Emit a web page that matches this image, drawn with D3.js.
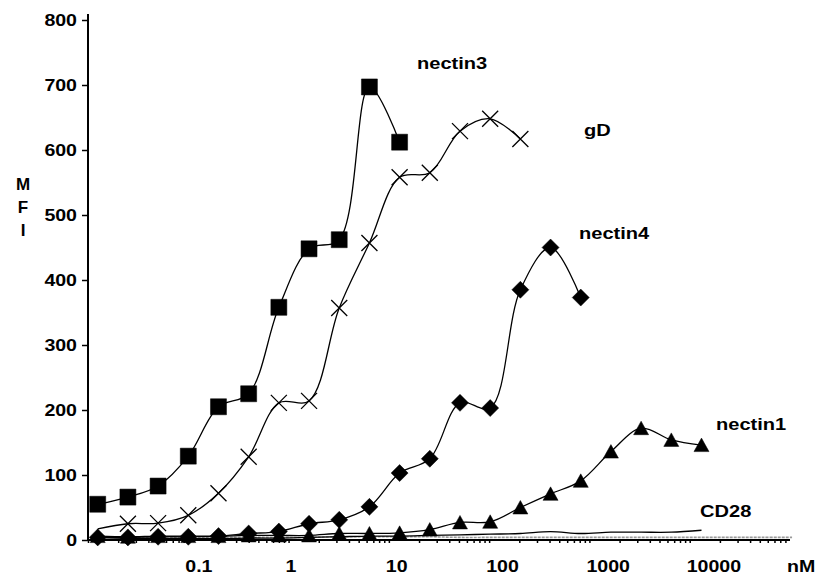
<!DOCTYPE html>
<html>
<head>
<meta charset="utf-8">
<script src="https://cdn.jsdelivr.net/npm/d3@7"></script>
<style>
body { margin: 0; background: #fff; }
text { font-family: "Liberation Sans", Arial, sans-serif; font-weight: bold; fill: #000; }
</style>
</head>
<body>
<script>
// concentrations (nM), 2-fold dilution series
var conc = [0.0125, 0.025, 0.05, 0.1, 0.2, 0.4, 0.8, 1.6, 3.2, 6.4, 12.8, 25.6, 51.2,
            102.4, 204.8, 409.6, 819.2, 1638.4, 3276.8, 6553.6, 13107.2, 26214.4, 52428.8, 104857.6];

// MFI values
var nectin3 = [55, 66, 83, 129, 205, 225, 358, 448, 462, 697, 612];
var gD      = [17, 25, 26, 38, 72, 128, 211, 214, 357, 457, 558, 565, 629, 648, 617];
var nectin4 = [4, 4, 5, 5, 6, 10, 13, 25, 31, 51, 103, 125, 211, 203, 385, 450, 373];
var nectin1 = [6, 5, 6, 6, 6, 7, 7, 7, 10, 10, 11, 16, 27, 28, 50, 71, 91, 136, 172, 154, 146];
var cd28    = [1, 2, 2, 2, 2, 3, 3, 4, 5, 6, 6, 7, 8, 9, 10, 13, 10, 12, 12, 12, 15];
var ctrl    = [4, 4, 4, 4, 4, 4, 4, 4, 5, 5, 5, 5, 4, 4, 4, 4, 4, 4, 4, 4, 4, 4, 4, 4];

var yTicks = [0, 100, 200, 300, 400, 500, 600, 700, 800];
var xLabels = [0.1, 1, 10, 100, 1000, 10000];

var svg = d3.select("body").append("svg")
    .attr("width", 818)
    .attr("height", 576);

var x = d3.scaleLog().domain([0.01, 100000]).range([88, 790]);
var y = d3.scaleLinear().domain([0, 800]).range([540, 20]);

// the scanned figure has wide lettering, stretch text a bit
function widen(sel, k) {
    sel.each(function() {
        var w = this.getComputedTextLength();
        d3.select(this).attr("textLength", w * k).attr("lengthAdjust", "spacingAndGlyphs");
    });
}

// y axis
var yAxis = svg.append("g")
    .attr("transform", "translate(88,0)")
    .call(d3.axisLeft(y).tickValues(yTicks).tickSize(6).tickPadding(5).tickSizeOuter(0));
yAxis.select(".domain").remove();
yAxis.selectAll("line").attr("stroke", "#000").attr("stroke-width", 1.5);
yAxis.selectAll("text").style("font-size", "17px").attr("font-family", null);
widen(yAxis.selectAll("text"), 1.15);
svg.append("line")
    .attr("x1", 88).attr("x2", 88)
    .attr("y1", 14).attr("y2", 540)
    .attr("stroke", "#000").attr("stroke-width", 2);

// x axis: log ticks hanging under the line
var minor = [];
for (var e = -2; e < 5; e++) {
    for (var m = 1; m < 10; m++) minor.push(m * Math.pow(10, e));
}
var xAxis = svg.append("g")
    .attr("transform", "translate(0,540)")
    .call(d3.axisBottom(x).tickValues(minor).tickSize(3).tickFormat(""));
xAxis.select(".domain").remove();
xAxis.selectAll("line").attr("stroke", "#000").attr("stroke-width", 1.5);
svg.append("line")
    .attr("x1", 88).attr("x2", 790)
    .attr("y1", 540).attr("y2", 540)
    .attr("stroke", "#000").attr("stroke-width", 2);

var xl = svg.selectAll(".xlab")
    .data(xLabels)
    .enter()
    .append("text")
    .attr("class", "xlab")
    .attr("x", function(d) { return x(d) - 3; })
    .attr("y", 572)
    .style("font-size", "17px")
    .text(function(d) { return d; });
widen(xl, 1.15);

widen(svg.append("text").attr("x", 787).attr("y", 572).style("font-size", "17px").text("nM"), 1.15);

// MFI, stacked letters
svg.selectAll(".ylab")
    .data(["M", "F", "I"])
    .enter()
    .append("text")
    .attr("x", 23)
    .attr("y", function(d, i) { return 190 + i * 23; })
    .attr("text-anchor", "middle")
    .style("font-size", "17px")
    .text(function(d) { return d; });

var line = d3.line()
    .x(function(d, i) { return x(conc[i]); })
    .y(function(d) { return y(d); })
    .curve(d3.curveCatmullRom.alpha(0.5));

// control near zero (grey dashed) and CD28 (plain line)
svg.append("path").attr("d", line(ctrl))
    .attr("fill", "none").attr("stroke", "#9a9a9a").attr("stroke-width", 1.6)
    .attr("stroke-dasharray", "3,1");
svg.append("path").attr("d", line(cd28))
    .attr("fill", "none").attr("stroke", "#000").attr("stroke-width", 1.3);

var shapes = {
    square: "M-8,-8h16v16h-16z",
    diamond: "M0,-8.5L8.5,0L0,8.5L-8.5,0Z",
    triangle: "M0,-7L7.5,6.5L-7.5,6.5Z",
    cross: "M-8,-8L8,8M8,-8L-8,8"
};

var series = [
    { vals: nectin3, shape: "square", skip: -1 },
    { vals: gD, shape: "cross", skip: 0 },
    { vals: nectin4, shape: "diamond", skip: -1 },
    { vals: nectin1, shape: "triangle", skip: -1 }
];

series.forEach(function(s) {
    var g = svg.append("g");
    g.append("path").attr("d", line(s.vals))
        .attr("fill", "none").attr("stroke", "#000").attr("stroke-width", 1.3);
    var pts = s.vals.map(function(v, i) { return { c: conc[i], v: v, i: i }; })
        .filter(function(p) { return p.i != s.skip; });
    g.selectAll("path.mk")
        .data(pts)
        .enter()
        .append("path")
        .attr("class", "mk")
        .attr("transform", function(p) { return "translate(" + x(p.c) + "," + y(p.v) + ")"; })
        .attr("d", shapes[s.shape])
        .attr("fill", s.shape == "cross" ? "none" : "#000")
        .attr("stroke", "#000")
        .attr("stroke-width", s.shape == "cross" ? 1.3 : 0.5);
});

// series names
var names = [
    { t: "nectin3", px: 417, py: 69 },
    { t: "gD", px: 584, py: 136 },
    { t: "nectin4", px: 579, py: 239 },
    { t: "nectin1", px: 716, py: 430 },
    { t: "CD28", px: 700, py: 517 }
];
var nm = svg.selectAll(".nm")
    .data(names)
    .enter()
    .append("text")
    .attr("x", function(d) { return d.px; })
    .attr("y", function(d) { return d.py; })
    .style("font-size", "17px")
    .text(function(d) { return d.t; });
widen(nm, 1.18);
</script>
</body>
</html>
